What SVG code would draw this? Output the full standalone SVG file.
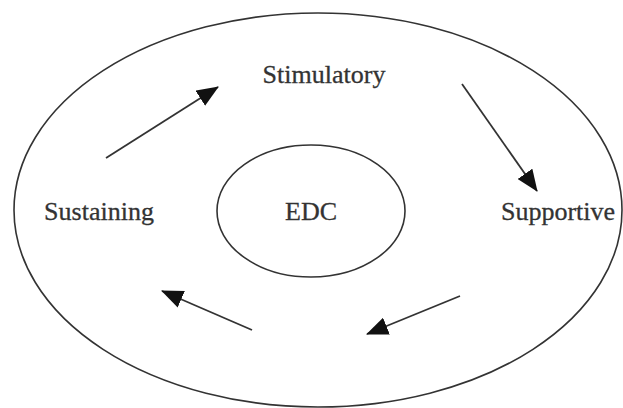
<svg xmlns="http://www.w3.org/2000/svg" width="623" height="408" viewBox="0 0 623 408">
  <defs>
    <marker id="head" viewBox="0 0 22 18" refX="21" refY="9" markerWidth="22" markerHeight="18" markerUnits="userSpaceOnUse" orient="auto">
      <path d="M0,0 L22,9 L0,18 Z" fill="#111"/>
    </marker>
    <style>
      .ring { fill: none; stroke: #333; stroke-width: 1.6; }
      .label { font-size: 26px; fill: #333; stroke: #333; stroke-width: 0.3; text-anchor: middle; }
      .flow { stroke: #333; stroke-width: 1.8; fill: none; marker-end: url(#head); }
    </style>
  </defs>
  <rect width="623" height="408" fill="#fff"/>

  <g id="outer">
    <ellipse class="ring" cx="318" cy="210" rx="304" ry="197"/>
  </g>

  <g font-family="Liberation Serif, DejaVu Serif, serif">
    <g id="edc">
      <ellipse class="ring" cx="311" cy="211" rx="94" ry="66"/>
      <text class="label" x="311" y="220">EDC</text>
    </g>

    <g id="stimulatory">
      <text class="label" x="324" y="83">Stimulatory</text>
    </g>

    <g id="supportive">
      <text class="label" x="558" y="220">Supportive</text>
    </g>

    <g id="sustaining">
      <text class="label" x="99" y="220">Sustaining</text>
    </g>
  </g>

  <g id="connectors">
    <line class="flow" x1="106" y1="158" x2="218" y2="87"/>
    <line class="flow" x1="462" y1="84" x2="537" y2="191"/>
    <line class="flow" x1="460" y1="296" x2="367" y2="334"/>
    <line class="flow" x1="252" y1="330" x2="162" y2="291"/>
  </g>
</svg>
